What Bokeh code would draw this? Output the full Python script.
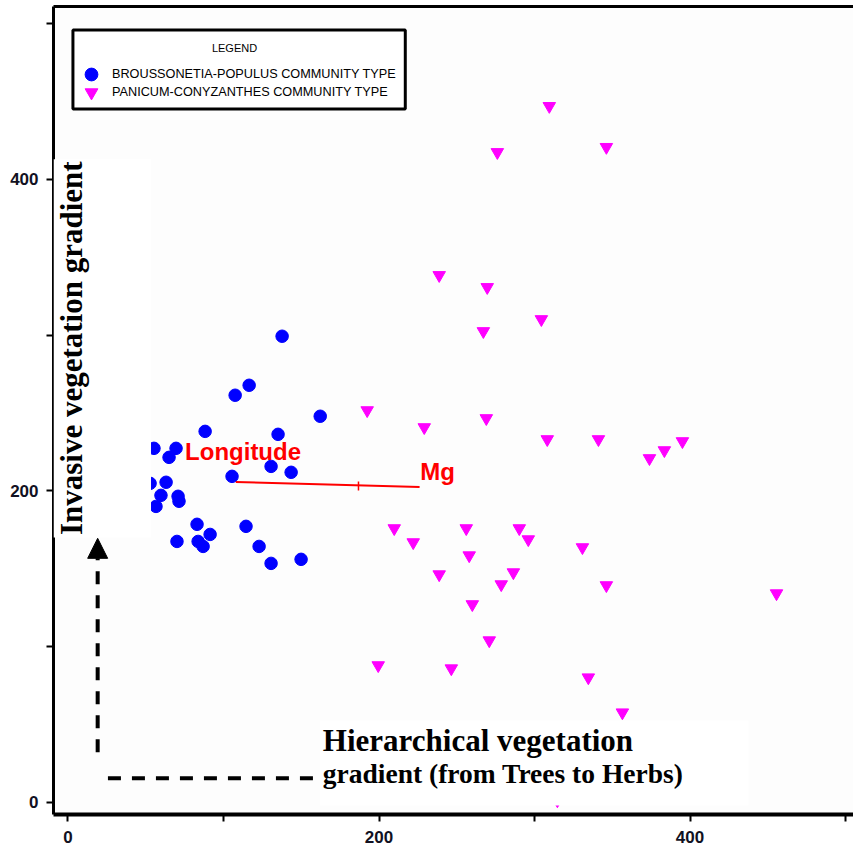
from math import pi
from bokeh.plotting import figure
from bokeh.models import (Range1d, FixedTicker, LinearAxis, Legend, LegendItem, Label,
                          Arrow, NormalHead, BoxAnnotation)
from bokeh.embed import file_html
from bokeh.resources import INLINE

# ---------------- data ----------------
legend_labels = ["BROUSSONETIA-POPULUS COMMUNITY TYPE", "PANICUM-CONYZANTHES COMMUNITY TYPE"]

broussonetia_x = [137.7, 107.5, 116.5, 162.2, 88.2, 135.1, 55.3, 69.5, 65.0, 130.6,
                  143.5, 105.5, 52.8, 63.1, 59.8, 70.8, 71.4, 56.6, 83.0, 114.5,
                  70.1, 83.7, 91.4, 86.9, 122.9, 130.6, 149.9]
broussonetia_y = [299.3, 261.4, 267.8, 247.9, 238.2, 236.3, 227.3, 227.3, 221.5, 215.7,
                  211.9, 209.3, 204.8, 205.5, 197.1, 196.5, 193.3, 190.0, 178.5, 177.2,
                  167.5, 167.5, 172.0, 164.3, 164.3, 153.4, 156.0]

panicum_x = [309.5, 276.1, 346.2, 238.7, 269.6, 304.4, 267.1, 192.4, 229.1, 269.0,
             308.2, 341.1, 373.9, 383.5, 395.1, 209.8, 222.0, 256.1, 258.0, 290.2,
             296.0, 330.8, 238.7, 286.4, 278.6, 346.2, 455.6, 260.0, 270.9, 199.5,
             246.5, 334.6, 356.5, 314.7]
panicum_y = [447.1, 417.5, 420.8, 338.5, 330.8, 310.2, 302.5, 251.7, 240.8, 246.6,
             233.1, 233.1, 220.9, 226.0, 231.8, 175.9, 166.9, 175.9, 158.5, 175.9,
             168.8, 163.7, 146.3, 147.6, 139.9, 139.3, 134.1, 127.1, 103.9, 87.9,
             85.9, 80.1, 57.6, 1.1]

# environmental vector (Longitude -> Mg)
vector_names = ["Longitude", "Mg"]
vector_x = [107.9, 226.1]
vector_y = [205.7, 202.4]
vector_mid_x = [186.8]
vector_mid_y = [203.1]

tick_values = [0, 100, 200, 300, 400, 500]
tick_labels = {0: "0", 100: "", 200: "200", 300: "", 400: "400", 500: ""}

y_title = "Invasive vegetation gradient"
x_title_1 = "Hierarchical vegetation"
x_title_2 = "gradient (from Trees to Herbs)"

# ---------------- figure ----------------
p = figure(width=853, height=853,
           x_range=Range1d(-9.3, 505.1), y_range=Range1d(-7.9, 511.1),
           output_backend="svg", toolbar_location=None,
           min_border_left=53, min_border_right=0, min_border_top=6, min_border_bottom=39,
           background_fill_color="#fdfdfd", border_fill_color="#ffffff")
p.outline_line_color = None
p.grid.visible = False

narrow = "'Liberation Sans Narrow', 'Arial Narrow', 'Liberation Sans', sans-serif"
for ax in (p.xaxis[0], p.yaxis[0]):
    ax.ticker = FixedTicker(ticks=tick_values)
    ax.major_label_overrides = tick_labels
    ax.minor_tick_line_color = None
    ax.major_tick_in = 0
    ax.major_tick_out = 7
    ax.major_tick_line_width = 2
    ax.major_tick_line_color = "black"
    ax.axis_line_color = "black"
    ax.major_label_text_font = narrow
    ax.major_label_text_font_size = "17px"
    ax.major_label_text_font_style = "bold"
    ax.major_label_text_color = "#111122"
p.yaxis.axis_line_width = 3
p.xaxis.axis_line_width = 4
p.yaxis.major_label_standoff = 8
p.xaxis.major_label_standoff = 9

top_axis = LinearAxis(ticker=FixedTicker(ticks=[]), axis_line_width=3, axis_line_color="black",
                      major_tick_out=0, major_tick_in=0, minor_tick_out=0, minor_tick_in=0,
                      major_label_standoff=0)
p.add_layout(top_axis, "above")

# ---------------- marks ----------------
r_blue = p.scatter(broussonetia_x, broussonetia_y, marker="circle", size=12.5,
                   fill_color="#0000ff", line_color="#0000ff", line_width=1)
r_pink = p.scatter(panicum_x, panicum_y, marker="inverted_triangle", size=12.5,
                   fill_color="#ff00ff", line_color="#ff00ff", line_width=1)

p.line(vector_x, vector_y, line_color="#ff0000", line_width=2)
p.scatter(vector_mid_x, vector_mid_y, marker="dash", angle=pi / 2, size=9,
          line_color="#ff0000", line_width=1.5)

# white panels behind the pasted axis titles
p.add_layout(BoxAnnotation(left=None, right=53.4, bottom=170.1, top=413.0,
                           fill_color="#ffffff", fill_alpha=1, line_color=None))
p.add_layout(BoxAnnotation(left=162.2, right=437.6, bottom=-2.1, top=52.5,
                           fill_color="#ffffff", fill_alpha=1, line_color=None))

# dashed arrows
p.add_layout(Arrow(x_start=19.1, y_start=32.1, x_end=19.1, y_end=169.5,
                   line_width=4, line_dash="13 11", line_color="black",
                   end=NormalHead(size=20, fill_color="black", line_color="black", line_width=1)))
p.add_layout(Arrow(x_start=25.7, y_start=15.4, x_end=158.9, y_end=15.4,
                   line_width=4, line_dash="13 11", line_color="black", end=None))

serif = "'Liberation Serif', 'Times New Roman', serif"
p.add_layout(Label(x=2.5, y=291.6, text=y_title, angle=pi / 2, text_align="center",
                   text_baseline="alphabetic", text_font=serif, text_font_style="bold",
                   text_font_size="31px", text_color="black"))
p.add_layout(Label(x=163.9, y=39.4, text=x_title_1, text_align="left",
                   text_baseline="alphabetic", text_font=serif, text_font_style="bold",
                   text_font_size="31px", text_color="black"))
p.add_layout(Label(x=163.9, y=18.7, text=x_title_2, text_align="left",
                   text_baseline="alphabetic", text_font=serif, text_font_style="bold",
                   text_font_size="27.5px", text_color="black"))

sans = "'Liberation Sans', Arial, sans-serif"
p.add_layout(Label(x=75.3, y=225.4, text=vector_names[0], text_baseline="alphabetic",
                   text_font=sans, text_font_style="bold", text_font_size="24px",
                   text_color="#ff0000"))
p.add_layout(Label(x=226.5, y=212.5, text=vector_names[1], text_baseline="alphabetic",
                   text_font=sans, text_font_style="bold", text_font_size="24px",
                   text_color="#ff0000"))

# ---------------- legend ----------------
p.add_layout(BoxAnnotation(left=3.2, right=216.9, bottom=445.2, top=496.0,
                           fill_color="#ffffff", fill_alpha=1,
                           line_color="black", line_width=3, line_alpha=1))
p.add_layout(Label(x=107.1, y=484.7, text="LEGEND", text_align="center", text_baseline="middle",
                   text_font=sans, text_font_size="11px", text_color="black"))

renderers = [r_blue, r_pink]
legend_locations = [(22, 724), (22, 706)]
for lab, rend, loc in zip(legend_labels, renderers, legend_locations):
    lg = Legend(items=[LegendItem(label=lab, renderers=[rend])],
                location=loc, orientation="vertical",
                padding=0, spacing=0, glyph_width=32, glyph_height=32,
                label_height=32, label_standoff=5,
                label_text_font=sans, label_text_font_size="12.7px", label_text_color="black",
                border_line_color=None, background_fill_alpha=0, margin=0)
    p.add_layout(lg)

open("out.html", "w").write(file_html(p, INLINE))
